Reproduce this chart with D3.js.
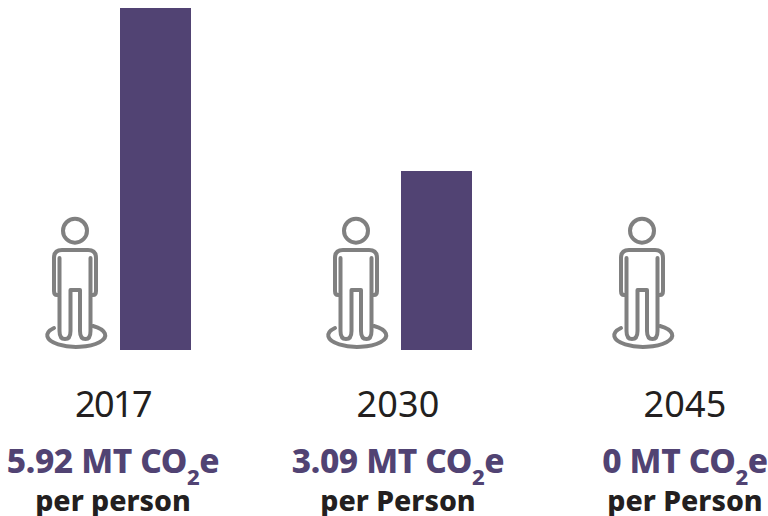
<!DOCTYPE html>
<html><head><meta charset="utf-8">
<script src="https://cdnjs.cloudflare.com/ajax/libs/d3/7.8.5/d3.min.js"></script>
<style>html,body{margin:0;background:#fff}svg{display:block}text{font-family:"Noto Sans",sans-serif}</style>
</head><body><svg id="c" width="768" height="516"></svg>
<script>
const years = ["2017","2030","2045"];
const values = [5.92,3.09,0];
const valueLabels = ["5.92 MT CO","3.09 MT CO","0 MT CO"];
const subLabels = ["per person","per Person","per Person"];

const purple="#514373", grey="#808080", ink="#231f20";
const svg=d3.select("#c");
const iconX=d3.scaleOrdinal().domain(years).range([75,356,642]);
const labelX=d3.scaleOrdinal().domain(years).range([113,398,685]);
const y=d3.scaleLinear().domain([0,5.92]).range([350,8]);

const g=svg.selectAll("g.col").data(years.map((yr,i)=>({yr,v:values[i],val:valueLabels[i],sub:subLabels[i]}))).join("g").attr("class","col");

g.append("rect").attr("x",d=>iconX(d.yr)+45).attr("width",71).attr("shape-rendering","crispEdges")
 .attr("y",d=>Math.floor(y(d.v))).attr("height",d=>y(0)-Math.floor(y(d.v))).attr("fill",purple);

const icon=g.append("g").attr("transform",d=>`translate(${iconX(d.yr)},0)`)
 .attr("fill","none").attr("stroke",grey).attr("stroke-width",4).attr("stroke-linecap","round").attr("stroke-linejoin","round");
icon.append("circle").attr("cx",0).attr("cy",230.7).attr("r",12);
icon.append("path").attr("d","M-15.5,258V296M15.5,258V296M-15.5,296V331Q-15.5,339 -10,339Q-4.5,339 -4.5,331V290H5V331Q5,339 10.5,339Q15.5,339 15.5,331V296M-15.5,295H-18Q-21,295 -21,291V258Q-21,250 -13,250H13Q21,250 21,258V291Q21,295 18,295H15.5");
icon.append("path").attr("d","M-21,328A29,11.5 0 1 0 18,326");

g.append("text").attr("x",d=>labelX(d.yr)).attr("y",417).attr("text-anchor","middle").attr("font-size",36).attr("fill",ink)
 .attr("letter-spacing",d=>d.yr==="2017"?-1.6:0.2).text(d=>d.yr);

const val=g.append("text").attr("x",d=>labelX(d.yr)).attr("y",473).attr("text-anchor","middle").attr("font-size",33.5).attr("font-weight",800).attr("letter-spacing",-0.4).attr("fill",purple);
val.append("tspan").text(d=>d.val);
val.append("tspan").attr("font-size",22).attr("dy",12).text("2");
val.append("tspan").attr("dy",-12).text("e");

g.append("text").attr("x",d=>labelX(d.yr)).attr("y",511).attr("text-anchor","middle").attr("font-size",28.5).attr("font-weight",800).attr("fill",ink).text(d=>d.sub);
</script></body></html>
